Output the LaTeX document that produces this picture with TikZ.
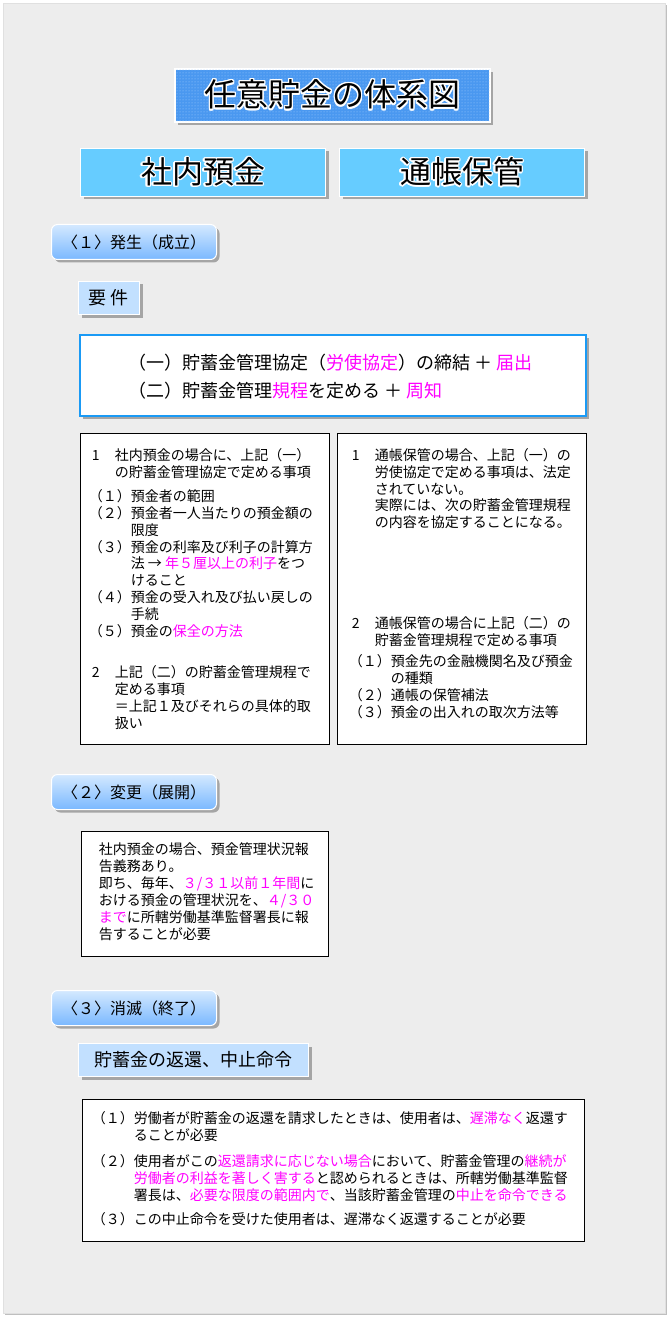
\documentclass[tikz,border=0pt]{standalone}
\usepackage{fontspec}
\setmainfont{Noto Sans CJK JP}
\usepackage{contour}
\contourlength{1.4pt}
\usetikzlibrary{positioning,shadows,patterns}
\definecolor{panelgray}{HTML}{EDEDED}
\definecolor{titleblue}{HTML}{4A98F0}
\definecolor{dotblue}{HTML}{A3CFFF}
\definecolor{headblue}{HTML}{66CCFF}
\definecolor{tagtop}{HTML}{D4E9FF}
\definecolor{tagbot}{HTML}{7AB8FF}
\definecolor{keyblue}{HTML}{C2E0FF}
\definecolor{frameblue}{HTML}{1A9AF5}
\definecolor{mag}{HTML}{FF00FF}
\newcommand\mg[1]{\textcolor{mag}{#1}}
\newcommand\nlbl[1]{\makebox[26pt][l]{\hspace{3pt}#1}}
\newcommand\ilbl[1]{\makebox[42pt][l]{#1}}
\begin{document}
\begin{tikzpicture}[x=1pt,y=-1pt,
  boxshadow/.style={drop shadow={shadow xshift=3pt,shadow yshift=-3pt,fill=black,opacity=0.3}},
  headbox/.style={boxshadow,draw=white,line width=1pt,fill=headblue,minimum width=245pt,minimum height=48pt,font=\fontsize{31}{36}\selectfont},
  tagbox/.style={boxshadow,draw=white,line width=1pt,rounded corners=6pt,top color=tagtop,bottom color=tagbot,minimum width=165pt,minimum height=35pt,font=\fontsize{16}{19}\selectfont},
  keybox/.style={boxshadow,draw=white,line width=1pt,fill=keyblue,minimum height=33pt,font=\fontsize{18}{21}\selectfont},
  plainbox/.style={draw=black,line width=0.8pt,fill=white},
  txt/.style={anchor=north west,inner sep=0pt,align=left,font=\fontsize{14}{16.9}\selectfont,execute at begin node={\rule{0pt}{0.95em}}}]
\useasboundingbox (0,0) rectangle (670,1321);
% panel
\filldraw[draw=black!12,fill=panelgray,drop shadow={shadow xshift=2pt,shadow yshift=-2pt,fill=black,opacity=0.25}] (3,3) rectangle (665,1313);
% headings
\node[boxshadow,draw=white,line width=2pt,fill=titleblue,postaction={pattern=dots,pattern color=dotblue},minimum width=315pt,minimum height=53pt,font=\fontsize{32}{38}\selectfont] (title) at (332.5,95.5) {\contour{white}{任意貯金の体系図}};
\node[headbox] (savein) at (203,172.5) {\contour{white}{社内預金}};
\node[headbox] (passbk) at (462,172.5) {\contour{white}{通帳保管}};
% (1)
\node[tagbox] (tag1) at (134,242) {〈１〉発生（成立）};
\node[keybox,minimum width=61pt] (req) at (109,298) {要 件};
\node[boxshadow,draw=frameblue,line width=2pt,fill=white,minimum width=506pt,minimum height=81pt] (cond) at (333,375.5) {};
\node[txt,font=\fontsize{18}{28}\selectfont,below right=19.7pt and 49pt of cond.north west] (condtxt) {%
（一）貯蓄金管理協定（\mg{労使協定}）の締結 ＋ \mg{届出}\\
（二）貯蓄金管理\mg{規程}を定める ＋ \mg{周知}};
\node[plainbox,minimum width=249pt,minimum height=311pt] (inleft) at (204.5,588.5) {};
\node[plainbox,minimum width=249pt,minimum height=311pt] (bkright) at (461.5,588.5) {};
\node[txt,below right=15.5pt and 9pt of inleft.north west] (lefttxt) {%
\nlbl{1}社内預金の場合に、上記（一）\\
\hspace*{26pt}の貯蓄金管理協定で定める事項\\[7.3pt]
\ilbl{（１）}預金者の範囲\\
\ilbl{（２）}預金者一人当たりの預金額の\\
\hspace*{42pt}限度\\
\ilbl{（３）}預金の利率及び利子の計算方\\
\hspace*{42pt}法 → \mg{年５厘以上の利子}をつ\\
\hspace*{42pt}けること\\
\ilbl{（４）}預金の受入れ及び払い戻しの\\
\hspace*{42pt}手続\\
\ilbl{（５）}預金の\mg{保全の方法}\\[24.3pt]
\nlbl{2}上記（二）の貯蓄金管理規程で\\
\hspace*{26pt}定める事項\\
\hspace*{26pt}＝上記１及びそれらの具体的取\\
\hspace*{26pt}扱い};
\node[txt,below right=15.5pt and 12pt of bkright.north west] (righttxt) {%
\nlbl{1}通帳保管の場合、上記（一）の\\
\hspace*{26pt}労使協定で定める事項は、法定\\
\hspace*{26pt}されていない。\\
\hspace*{26pt}実際には、次の貯蓄金管理規程\\
\hspace*{26pt}の内容を協定することになる。\\[83.8pt]
\nlbl{2}通帳保管の場合に上記（二）の\\
\hspace*{26pt}貯蓄金管理規程で定める事項\\[4.3pt]
\ilbl{（１）}預金先の金融機関名及び預金\\
\hspace*{42pt}の種類\\
\ilbl{（２）}通帳の保管補法\\
\ilbl{（３）}預金の出入れの取次方法等};
% (2)
\node[tagbox] (tag2) at (134,792) {〈２〉変更（展開）};
\node[plainbox,minimum width=247pt,minimum height=125pt] (chg) at (204.5,893.5) {};
\node[txt,below right=12pt and 18pt of chg.north west] (chgtxt) {%
社内預金の場合、預金管理状況報\\
告義務あり。\\
即ち、毎年、\mg{３/３１以前１年間}に\\
おける預金の管理状況を、\mg{４/３０}\\
\mg{まで}に所轄労働基準監督署長に報\\
告することが必要};
% (3)
\node[tagbox] (tag3) at (134,1008) {〈３〉消滅（終了）};
\node[keybox,minimum width=230pt] (ordr) at (193.5,1060) {貯蓄金の返還、中止命令};
\node[plainbox,minimum width=502pt,minimum height=142pt] (stopbox) at (333,1170) {};
\node[txt,below right=13pt and 10pt of stopbox.north west] (stoptxt) {%
\ilbl{（１）}労働者が貯蓄金の返還を請求したときは、使用者は、\mg{遅滞なく}返還す\\
\hspace*{42pt}ることが必要\\[9.2pt]
\ilbl{（２）}使用者がこの\mg{返還請求に応じない場合}において、貯蓄金管理の\mg{継続が}\\
\hspace*{42pt}\mg{労働者の利益を著しく害する}と認められるときは、所轄労働基準監督\\
\hspace*{42pt}署長は、\mg{必要な限度の範囲内で}、当該貯蓄金管理の\mg{中止を命令できる}\\[7.3pt]
\ilbl{（３）}この中止命令を受けた使用者は、遅滞なく返還することが必要};
\end{tikzpicture}
\end{document}
